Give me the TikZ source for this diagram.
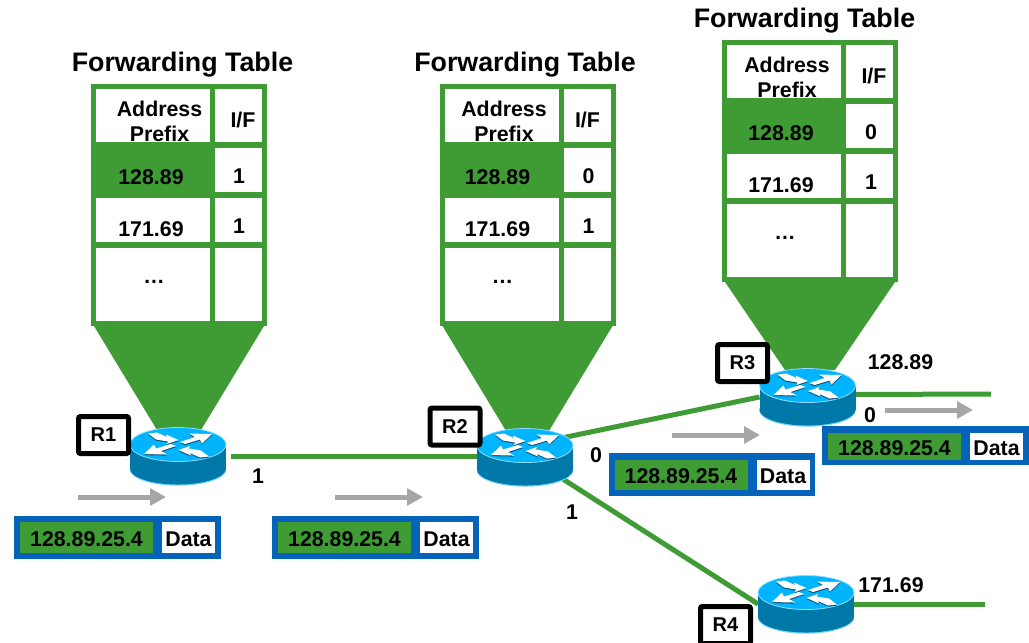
\documentclass[tikz,border=0pt]{standalone}
\usepackage{fontspec}
\setmainfont{Liberation Sans}
\usetikzlibrary{arrows.meta,calc}
\definecolor{leaf}{HTML}{3F9C35}
\definecolor{frame}{HTML}{0563B9}
\definecolor{rtop}{HTML}{00B4FF}
\definecolor{rside}{HTML}{0079A8}
\definecolor{rshadow}{HTML}{0A4F78}
\definecolor{flow}{HTML}{A6A6A6}
\tikzset{
  lab/.style={inner sep=0pt,outer sep=0pt,font=\bfseries\fontsize{16}{16}\selectfont,text=black},
  baselab/.style={lab,anchor=base},
  tabletitle/.style={baselab,font=\bfseries\fontsize{20.1}{20}\selectfont},
  cellbox/.style={anchor=north west,fill=white,inner sep=0pt,outer sep=0pt},
  shell/.style={anchor=north west,fill=leaf,inner sep=0pt,outer sep=0pt,minimum width=132pt,minimum height=181.5pt},
  link/.style={draw=leaf,line width=3.75pt},
  flowarrow/.style={draw=flow,line width=3.75pt,-{Triangle[length=12pt,width=12.5pt]}},
  routerbox/.style={inner sep=0pt,outer sep=0pt,minimum width=72pt,minimum height=42.75pt},
  namebox/.style={lab,draw=black,fill=white,line width=3.75pt,rounded corners=1.5pt,minimum width=37.5pt,minimum height=27.75pt,font=\bfseries\fontsize{15}{15}\selectfont},
  pktshell/.style={anchor=north west,fill=frame,inner sep=0pt,outer sep=0pt,minimum width=155pt},
  pktaddr/.style={lab,anchor=north west,fill=leaf,minimum width=99.75pt,text height=13.2pt,text depth=0pt},
  pktdata/.style={lab,anchor=north west,fill=white,minimum width=39.75pt,text height=13.2pt,text depth=0pt}
}
% table: name, x, y, address cx, I/F cx, value cx, prefix cx, first if, second if
\newcommand\fwdtable[9]{%
  \begin{scope}[shift={(#2,#3)}]
    \node[shell] (#1) at (0,0) {};
    \node[cellbox,minimum width=85.5pt,minimum height=39.75pt] (#1h1) at (5,5) {};
    \node[cellbox,minimum width=35.25pt,minimum height=39.75pt] (#1h2) at (124,5) {};
    \node[cellbox,minimum width=35.25pt,minimum height=33pt] (#1a2) at (124,64) {};
    \node[cellbox,minimum width=85.5pt,minimum height=33pt] (#1b1) at (5,114) {};
    \node[cellbox,minimum width=35.25pt,minimum height=33pt] (#1b2) at (124,114) {};
    \node[cellbox,minimum width=85.5pt,minimum height=54.75pt] (#1c1) at (5,164) {};
    \node[cellbox,minimum width=35.25pt,minimum height=54.75pt] (#1c2) at (124,164) {};
    \node[baselab] (#1addr) at (#4,32) {Address};
    \node[baselab] (#1pref) at (#4,57) {Prefix};
    \node[baselab] (#1if) at (#5,43) {I/F};
    \node[baselab] (#1p1) at (#7,100) {128.89};
    \node[baselab] (#1p2) at (#7,152.5) {171.69};
    \node[baselab] (#1v1) at (#6,99.5) {#8};
    \node[baselab] (#1v2) at (#6,149.5) {#9};
    \node[baselab] (#1dots) at (63,199) {…};
  \end{scope}}
% funnel below a table: table name, height, half width at the bottom
\newcommand\funnel[3]{%
  \fill[leaf] ([xshift=2.25pt]#1.south west) -- ($(#1.south)+(-#3,#2)$) -- ($(#1.south)+(#3,#2)$) -- ([xshift=-2.25pt]#1.south east) -- cycle;}
% packet: name, x, y, height, inner top, inner height
\newcommand\packet[6]{%
  \begin{scope}[shift={(#2,#3)}]
    \node[pktshell,minimum height=#4*0.75pt] (#1) at (0,0) {};
    \node[pktaddr,minimum height=#6*0.75pt] (#1a) at (6,#5) {128.89.25.4};
    \node[pktdata,minimum height=#6*0.75pt] (#1d) at (148,#5) {Data};
  \end{scope}}
% the four arrows on a router's top
\newcommand\rarrows{%
  (-30,-11) -- (-21,-12) -- (-11,-7.5) -- (-12,-10) -- (0.5,-4.5) -- (-11,-0.5) -- (-10,-3) -- (-22,-5) -- cycle
  (2,-2.5) -- (17,-7.5) -- (11,-11) -- (34,-10.5) -- (24,-1) -- (22,-5) -- (7,-0.5) -- cycle
  (-2,1.5) -- (-17,6.5) -- (-11,10) -- (-34,9.5) -- (-24,0) -- (-22,4) -- (-7,-0.5) -- cycle
  (31,12) -- (22,13) -- (12,8.5) -- (13,11) -- (0.5,5.5) -- (12,1.5) -- (11,4) -- (23,6) -- cycle}
% router art on a router node
\newcommand\routerart[1]{%
  \begin{scope}[shift={(#1.center)},yshift=8.6pt]
    \fill[rtop!55!white] (0,24.8) ellipse [x radius=48.3,y radius=16.4];
    \fill[rside] (-48,0) rectangle (48,24);
    \fill[rside] (0,24) ellipse [x radius=48,y radius=16];
    \fill[rtop] (0,0) ellipse [x radius=48,y radius=17];
    \draw[rtop!45!white,line width=.6pt] (0,0) ellipse [x radius=48,y radius=17];
    \begin{scope}[yshift=-0.8pt]
      \fill[rshadow] \rarrows;
    \end{scope}
    \fill[white] \rarrows;
  \end{scope}}
\begin{document}
\begin{tikzpicture}[x=0.75pt,y=-0.75pt]
\useasboundingbox (0,0) rectangle (1029,643);
% router anchors
\node[routerbox] (r1) at (178,456) {};
\node[routerbox] (r2) at (525,457) {};
\node[routerbox] (r3) at (807.5,397) {};
\node[routerbox] (r4) at (806,604) {};
% tables
\fwdtable{ta}{91}{84}{68.5}{152}{148}{60}{1}{1}
\fwdtable{tb}{439.5}{84}{64.5}{148}{149}{58}{0}{1}
\fwdtable{tc}{722}{40}{65}{152}{149}{59}{0}{1}
\funnel{ta}{104}{22}
\funnel{tb}{104}{22}
\funnel{tc}{88}{25}
\node[tabletitle] (tat) at (182.5,71) {Forwarding Table};
\node[tabletitle] (tbt) at (525,71) {Forwarding Table};
\node[tabletitle] (tct) at (804.5,27.5) {Forwarding Table};
% links
\coordinate (e3) at (991,394);
\coordinate (e4) at (985,604);
\draw[link,shorten <=3.75pt] (r1.east) -- (r1.east -| r2.west);
\draw[link,shorten <=-9pt] (r2.24) -- (r3.west);
\draw[link,shorten <=-14pt] (r2.south east) -- (r4.west);
\draw[link] (r3.3) -- (e3);
\draw[link] (r4.east) -- (e4);
\routerart{r1}
\routerart{r2}
\routerart{r3}
\routerart{r4}
% router names
\node[namebox] (n1) at (103.5,435) {R1};
\node[namebox] (n2) at (455,426.5) {R2};
\node[namebox] (n3) at (742.5,363) {R3};
\node[namebox] (n4) at (725.5,625) {R4};
% packets
\packet{pa}{14}{516}{43}{6}{31}
\packet{pb}{272}{516}{43}{6}{31}
\packet{pc}{608.5}{453}{43}{7}{30}
\packet{pd}{822}{426}{39}{7}{27}
% flow arrows
\coordinate (fa1) at (78,497);  \coordinate (fa2) at (166,497);
\coordinate (fb1) at (335,497); \coordinate (fb2) at (423,497);
\coordinate (fc1) at (672,435); \coordinate (fc2) at (760,435);
\coordinate (fd1) at (885,410); \coordinate (fd2) at (973,410);
\draw[flowarrow] (fa1) -- (fa2);
\draw[flowarrow] (fb1) -- (fb2);
\draw[flowarrow] (fc1) -- (fc2);
\draw[flowarrow] (fd1) -- (fd2);
% interface and prefix labels
\node[baselab] (l1) at (258,483.5) {1};
\node[baselab] (l2) at (572,519.5) {1};
\node[baselab] (l3) at (596,462) {0};
\node[baselab] (l4) at (870,422.5) {0};
\node[baselab] (l5) at (900.5,369) {128.89};
\node[baselab] (l6) at (891,592.5) {171.69};
\end{tikzpicture}
\end{document}
